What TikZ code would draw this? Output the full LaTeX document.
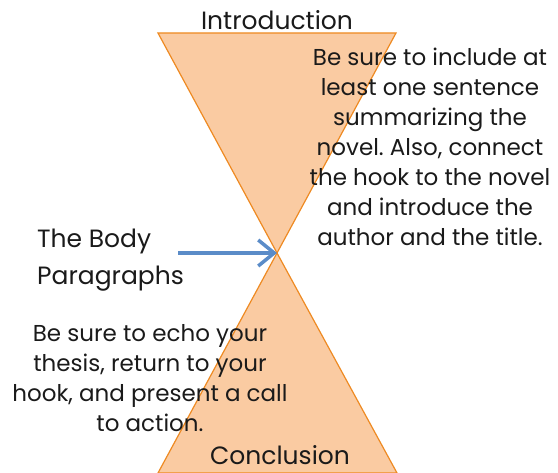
\documentclass[tikz,border=0pt]{standalone}
\usepackage{fontspec}
\setmainfont{Poppins}
\frenchspacing
\usetikzlibrary{arrows.meta}
\definecolor{sandfill}{HTML}{FACBA2}
\definecolor{sandline}{HTML}{EE8A22}
\definecolor{arrowblue}{HTML}{5B8CC8}
\definecolor{inktext}{HTML}{1A1A1A}
\begin{document}
\begin{tikzpicture}[x=1pt,y=-1pt]
\tikzstyle{glass}=[fill=sandfill, draw=sandline, line width=1.2pt, line join=miter]
\tikzstyle{label}=[inner sep=0pt, text=inktext, font=\fontsize{23}{30}\selectfont, align=center]
\tikzstyle{title}=[inner sep=0pt, text=inktext, font=\fontsize{25}{37}\selectfont]
\tikzstyle{arrow}=[-{Straight Barb[length=16pt,width=26pt]}, draw=arrowblue, line width=3.5pt]
\useasboundingbox (0,0) rectangle (558,473);

\coordinate (waist) at (277,253);
\coordinate (tl) at (158,33);
\coordinate (tr) at (396,33);
\coordinate (bl) at (158,473);
\coordinate (br) at (397,473);
\coordinate (arrowstart) at (178,253);

\draw[glass] (tl) -- (tr) -- (waist) -- cycle;
\draw[glass] (waist) -- (bl) -- (br) -- cycle;

\node[title, anchor=base] (intro) at (277,30) {Introduction};
\node[title, anchor=base] (concl) at (280,465) {Conclusion};
\node[title, anchor=base west, align=left] (body) at (37,285) {The Body\\Paragraphs};
\node[label, anchor=base] (introtext) at (430,246) {Be sure to include at\\least one sentence\\summarizing the\\novel. Also, connect\\the hook to the novel\\and introduce the\\author and the title.};
\node[label, anchor=base] (concltext) at (150,432) {Be sure to echo your\\thesis, return to your\\hook, and present a call\\to action.};

\draw[arrow] (arrowstart) -- (waist);
\end{tikzpicture}
\end{document}
